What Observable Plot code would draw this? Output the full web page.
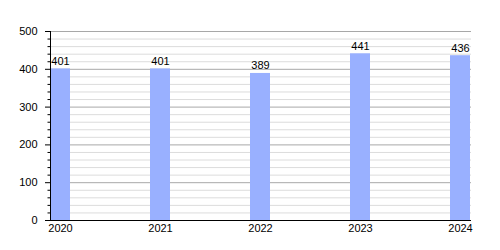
<!DOCTYPE html>
<html>
<head>
<meta charset="utf-8">
<script src="https://cdn.jsdelivr.net/npm/d3@7"></script>
<script src="https://cdn.jsdelivr.net/npm/@observablehq/plot@0.6"></script>
<style>
  html, body { margin: 0; padding: 0; background: #fff; }
  #chart svg { display: block; }
</style>
</head>
<body>
<div id="chart"></div>
<script>
const years = ["2020", "2021", "2022", "2023", "2024"];
const values = [401, 401, 389, 441, 436];
const majorTicks = [0, 100, 200, 300, 400, 500];
const minorTicks = d3.range(0, 501, 20).filter(v => v % 100 !== 0);

const data = years.map((y, i) => ({year: y, value: values[i]}));

const chart = Plot.plot({
  width: 500,
  height: 250,
  marginLeft: 50,
  marginRight: 29,
  marginTop: 31,
  marginBottom: 30,
  style: {fontFamily: "'Liberation Sans', Arial, sans-serif", fontSize: "11px", color: "#000", background: "#fff"},
  x: {domain: years, paddingInner: 0.8, paddingOuter: 0.005, align: 0, label: null},
  y: {domain: [0, 500], label: null},
  marks: [
    Plot.ruleY(minorTicks, {stroke: "#dcdcdc", strokeOpacity: 1}),
    Plot.ruleY(majorTicks.filter(v => v > 0), {stroke: "#a8a8a8", strokeOpacity: 1}),
    Plot.barY(data, {x: "year", y: "value", fill: "#99b0ff"}),
    Plot.text(data, {x: "year", y: "value", text: d => String(d.value), lineAnchor: "bottom", dy: -4, fill: "#000", fontSize: 11}),
    Plot.axisY(minorTicks, {tickSize: 2.5, text: null, stroke: "#000", strokeOpacity: 1}),
    Plot.axisY(majorTicks, {tickSize: 5, tickPadding: 8, fontSize: 11, stroke: "#000", strokeOpacity: 1}),
    Plot.axisX({tickSize: 0, tickPadding: 4, fontSize: 11}),
    Plot.frame({anchor: "left", stroke: "#000", strokeOpacity: 1}),
    Plot.ruleY([0], {stroke: "#000"})
  ]
});
document.getElementById("chart").appendChild(chart);
</script>
</body>
</html>
